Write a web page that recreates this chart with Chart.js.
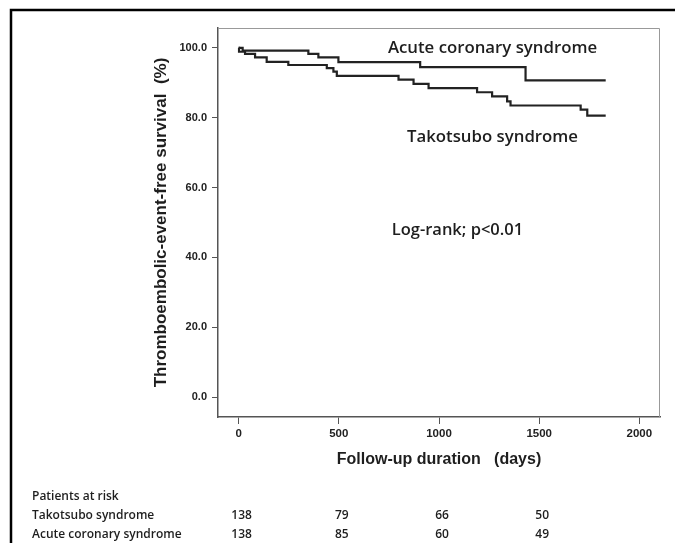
<!DOCTYPE html>
<html lang="en">
<head>
    <meta charset="UTF-8">
    <title>Thromboembolic-event-free survival</title>
    <script src="https://cdn.jsdelivr.net/npm/chart.js"></script>
    <style>
        html, body { margin: 0; padding: 0; background: #fff; }
        #wrap { position: relative; width: 675px; height: 543px; }
    </style>
</head>
<body>
    <div id="wrap">
        <canvas id="kmChart" width="675" height="543"></canvas>
    </div>

    <script>
        // Kaplan-Meier steps (days, %)
        const ttsDays = [0, 2, 32, 82, 140, 248, 440, 473, 490, 798, 873, 948, 1190, 1265, 1340, 1357, 1707, 1740, 1832];
        const ttsSurv = [100, 98.9, 98.3, 97.3, 96.0, 95.1, 94.2, 93.2, 92.0, 90.9, 89.7, 88.5, 87.3, 86.1, 84.7, 83.5, 82.3, 80.6, 80.6];

        const acsDays = [0, 20, 348, 398, 498, 906, 1432, 1832];
        const acsSurv = [100, 99.2, 98.3, 97.3, 95.9, 94.5, 90.7, 90.7];

        const xTicks = [0, 500, 1000, 1500, 2000];
        const yTicks = [0, 20, 40, 60, 80, 100];

        // patients at risk at 0 / 500 / 1000 / 1500 days
        const riskDays = [0, 500, 1000, 1500];
        const riskTTS = [138, 79, 66, 50];
        const riskACS = [138, 85, 60, 49];

        const toPoints = (xs, ys) => xs.map((x, i) => ({x: x, y: ys[i]}));

        const textFont = '"Open Sans", "Noto Sans", sans-serif';
        const axisFont = 'Liberation Sans, Arial, sans-serif';

        const extras = {
            id: 'extras',
            beforeDraw(chart) {
                const ctx = chart.ctx;
                ctx.save();
                ctx.fillStyle = '#fff';
                ctx.fillRect(0, 0, chart.width, chart.height);
                // outer black frame (top + left)
                ctx.strokeStyle = '#000';
                ctx.lineWidth = 2.5;
                ctx.beginPath();
                ctx.moveTo(11, 543);
                ctx.lineTo(11, 10);
                ctx.lineTo(675, 10);
                ctx.stroke();
                ctx.restore();
            },
            afterDraw(chart) {
                const ctx = chart.ctx;
                const xs = chart.scales.x;
                const ys = chart.scales.y;
                const a = chart.chartArea;
                ctx.save();
                // light frame top/right
                ctx.strokeStyle = '#999';
                ctx.lineWidth = 1;
                ctx.beginPath();
                ctx.moveTo(a.left, a.top + 0.5);
                ctx.lineTo(a.right - 0.5, a.top + 0.5);
                ctx.lineTo(a.right - 0.5, a.bottom);
                ctx.stroke();

                // curve labels
                ctx.fillStyle = '#1e1e1e';
                ctx.textAlign = 'center';
                ctx.textBaseline = 'middle';
                ctx.font = '600 16.8px ' + textFont;
                ctx.fillText('Acute coronary syndrome', xs.getPixelForValue(1267), ys.getPixelForValue(100));
                ctx.fillText('Takotsubo syndrome', xs.getPixelForValue(1267), ys.getPixelForValue(74.3));
                ctx.font = '600 16.5px ' + textFont;
                ctx.fillText('Log-rank; p<0.01', xs.getPixelForValue(1092), ys.getPixelForValue(47.7));

                // patients at risk table
                ctx.font = '600 12px ' + textFont;
                ctx.textAlign = 'left';
                ctx.fillText('Patients at risk', 32, 497);
                ctx.fillText('Takotsubo syndrome', 32, 516);
                ctx.fillText('Acute coronary syndrome', 32, 535);
                ctx.textAlign = 'center';
                riskDays.forEach((d, i) => {
                    const px = xs.getPixelForValue(d);
                    ctx.fillText(String(riskTTS[i]), px + 3, 516);
                    ctx.fillText(String(riskACS[i]), px + 3, 535);
                });
                ctx.restore();
            }
        };

        const ctx = document.getElementById('kmChart').getContext('2d');
        new Chart(ctx, {
            type: 'line',
            data: {
                datasets: [
                    {
                        label: 'Takotsubo syndrome',
                        data: toPoints(ttsDays, ttsSurv),
                        stepped: true,
                        borderColor: '#222',
                        borderWidth: 2.2,
                        pointRadius: 0,
                        fill: false
                    },
                    {
                        label: 'Acute coronary syndrome',
                        data: toPoints(acsDays, acsSurv),
                        stepped: true,
                        borderColor: '#222',
                        borderWidth: 2.2,
                        pointRadius: 0,
                        fill: false
                    }
                ]
            },
            options: {
                responsive: false,
                animation: false,
                layout: { padding: { left: 0, top: 28, right: 15, bottom: 0 } },
                plugins: {
                    legend: { display: false },
                    tooltip: { enabled: false }
                },
                scales: {
                    x: {
                        type: 'linear',
                        min: -103,
                        max: 2103,
                        afterBuildTicks: (scale) => { scale.ticks = xTicks.map(v => ({value: v})); },
                        afterFit: (scale) => { scale.height = 126; },
                        grid: { drawOnChartArea: false, tickLength: 7, color: '#555', tickWidth: 1 },
                        border: { color: '#555', width: 1.5 },
                        ticks: {
                            padding: 3,
                            color: '#222',
                            font: { family: axisFont, size: 11.5, weight: 'bold' },
                            callback: (v) => String(v)
                        },
                        title: {
                            display: true,
                            text: 'Follow-up duration   (days)',
                            color: '#1e1e1e',
                            font: { family: axisFont, size: 16, weight: 'bold' },
                            padding: { top: 0, bottom: 73.4 }
                        }
                    },
                    y: {
                        min: -5.7,
                        max: 105.7,
                        afterBuildTicks: (scale) => { scale.ticks = yTicks.map(v => ({value: v})); },
                        afterFit: (scale) => { scale.width = 218; },
                        grid: { drawOnChartArea: false, tickLength: 6, color: '#555', tickWidth: 1 },
                        border: { color: '#555', width: 1.5 },
                        ticks: {
                            padding: 5,
                            color: '#222',
                            font: { family: axisFont, size: 11, weight: 'bold' },
                            callback: (v) => Number(v).toFixed(1)
                        },
                        title: {
                            display: true,
                            text: 'Thromboembolic-event-free survival  (%)',
                            color: '#1e1e1e',
                            font: { family: axisFont, size: 17, weight: 'bold' },
                            padding: { top: 151, bottom: 0 }
                        }
                    }
                }
            },
            plugins: [extras]
        });
    </script>
</body>
</html>
